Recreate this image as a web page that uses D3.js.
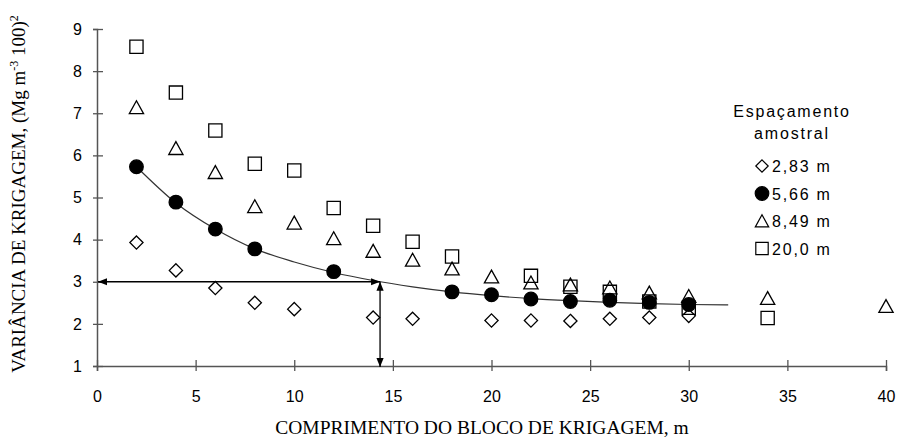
<!DOCTYPE html>
<html>
<head>
<meta charset="utf-8">
<script src="https://cdn.jsdelivr.net/npm/d3@7"></script>
<style>
  html, body { margin: 0; padding: 0; background: #fff; }
  svg { display: block; }
</style>
</head>
<body>
<svg id="chart" width="902" height="444"></svg>
<script>
// Block length (m) and kriging variance for each sampling spacing
const x283 = [2, 4, 6, 8, 10, 14, 16, 20, 22, 24, 26, 28, 30];
const y283 = [3.93, 3.27, 2.85, 2.50, 2.35, 2.15, 2.12, 2.08, 2.08, 2.07, 2.12, 2.15, 2.19];

const x566 = [2, 4, 6, 8, 12, 18, 20, 22, 24, 26, 28, 30];
const y566 = [5.73, 4.89, 4.25, 3.78, 3.24, 2.76, 2.69, 2.59, 2.53, 2.56, 2.51, 2.46];

const x849 = [2, 4, 6, 8, 10, 12, 14, 16, 18, 20, 22, 24, 26, 28, 30, 34, 40];
const y849 = [7.14, 6.17, 5.60, 4.79, 4.40, 4.03, 3.73, 3.52, 3.31, 3.12, 2.98, 2.93, 2.86, 2.74, 2.66, 2.61, 2.42];

const x200 = [2, 4, 6, 8, 10, 12, 14, 16, 18, 22, 24, 26, 28, 30, 34];
const y200 = [8.58, 7.49, 6.59, 5.80, 5.64, 4.75, 4.33, 3.95, 3.60, 3.14, 2.88, 2.76, 2.53, 2.38, 2.14];

// Fitted curve for the 5,66 m spacing
const xFit = [2, 4, 6, 8, 10, 12, 14, 16, 18, 20, 22, 24, 26, 28, 30, 32];
const yFit = [5.73, 4.87, 4.25, 3.78, 3.47, 3.22, 3.03, 2.88, 2.76, 2.67, 2.60, 2.55, 2.51, 2.48, 2.46, 2.45];

// Reading of the block length that gives a variance of 3
const readX = 14.35;
const readY = 3;

const xTicks = [0, 5, 10, 15, 20, 25, 30, 35, 40];
const yTicks = [1, 2, 3, 4, 5, 6, 7, 8, 9];

const legendLabels = ["2,83 m", "5,66 m", "8,49 m", "20,0 m"];
const legendShapes = ["diamond", "circle", "triangle", "square"];

const svg = d3.select("#chart");
const plotLeft = 97, plotRight = 886, plotTop = 29, plotBottom = 366;

const x = d3.scaleLinear().domain([0, 40]).range([plotLeft, plotRight]);
const y = d3.scaleLinear().domain([1, 9]).range([plotBottom, plotTop]);

const axisColor = "#555";

// Axes with ticks crossing the line
const xAxis = svg.append("g")
  .attr("transform", `translate(0,${plotBottom})`)
  .call(d3.axisBottom(x).tickValues(xTicks).tickSize(5).tickPadding(20).tickFormat(d3.format("d")));
xAxis.selectAll(".tick line").attr("y1", -6);

const yAxis = svg.append("g")
  .attr("transform", `translate(${plotLeft},0)`)
  .call(d3.axisLeft(y).tickValues(yTicks).tickSize(4).tickPadding(11).tickFormat(d3.format("d")));
yAxis.selectAll(".tick line").attr("x1", 6).attr("x2", -4);

[xAxis, yAxis].forEach(g => {
  g.select(".domain").attr("stroke", axisColor).attr("stroke-width", 1.5);
  g.selectAll(".tick line").attr("stroke", axisColor).attr("stroke-width", 1.3);
  g.selectAll(".tick text")
    .attr("fill", "#000")
    .style("font-family", "'Liberation Sans', Arial, sans-serif")
    .style("font-size", "16px");
});

// Axis titles
svg.append("text")
  .attr("x", 482).attr("y", 434)
  .attr("text-anchor", "middle")
  .style("font-family", "'Liberation Serif', 'Times New Roman', serif")
  .style("font-size", "19.5px")
  .text("COMPRIMENTO DO BLOCO DE KRIGAGEM, m");

const yTitle = svg.append("text")
  .attr("transform", "translate(25,194) rotate(-90)")
  .attr("text-anchor", "middle")
  .style("font-family", "'Liberation Serif', 'Times New Roman', serif")
  .style("font-size", "19px");
yTitle.append("tspan").text("VARIÂNCIA DE KRIGAGEM, (Mg m");
yTitle.append("tspan").attr("dy", -7).style("font-size", "12px").text("-3");
yTitle.append("tspan").attr("dy", 7).text(" 100)");
yTitle.append("tspan").attr("dy", -7).style("font-size", "12px").text("2");

// Fitted curve
const line = d3.line()
  .x((d, i) => x(xFit[i]))
  .y((d, i) => y(yFit[i]))
  .curve(d3.curveMonotoneX);
svg.append("path")
  .datum(yFit)
  .attr("d", line)
  .attr("fill", "none")
  .attr("stroke", "#333")
  .attr("stroke-width", 1.2);

// Double-headed arrows marking the reading at variance 3
const defs = svg.append("defs");
defs.append("marker")
  .attr("id", "head")
  .attr("viewBox", "0 0 10 10")
  .attr("refX", 10).attr("refY", 5)
  .attr("markerWidth", 9).attr("markerHeight", 9)
  .attr("markerUnits", "userSpaceOnUse")
  .attr("orient", "auto-start-reverse")
  .append("path")
  .attr("d", "M0,1 L10,5 L0,9 Z")
  .attr("fill", "#000");

svg.append("line")
  .attr("x1", x(readX)).attr("y1", y(readY))
  .attr("x2", x(0) + 1).attr("y2", y(readY))
  .attr("stroke", "#000").attr("stroke-width", 1.3)
  .attr("marker-start", "url(#head)")
  .attr("marker-end", "url(#head)");

svg.append("line")
  .attr("x1", x(readX)).attr("y1", y(readY))
  .attr("x2", x(readX)).attr("y2", y(1) + 1)
  .attr("stroke", "#000").attr("stroke-width", 1.3)
  .attr("marker-start", "url(#head)")
  .attr("marker-end", "url(#head)");

// Marker symbols
const shapePath = {
  diamond: s => `M0,${-s} L${s},0 L0,${s} L${-s},0 Z`,
  square: s => `M${-s},${-s} H${s} V${s} H${-s} Z`,
  triangle: s => `M0,${-s} L${s * 1.08},${s * 0.95} L${-s * 1.08},${s * 0.95} Z`,
  circle: s => `M${s},0 A${s},${s} 0 1 1 ${-s},0 A${s},${s} 0 1 1 ${s},0 Z`
};
const shapeSize = { diamond: 6.6, square: 6.6, triangle: 6.6, circle: 6.8 };

function drawSeries(xs, ys, shape) {
  const filled = shape === "circle";
  svg.append("g").selectAll("path")
    .data(ys)
    .join("path")
    .attr("transform", (d, i) => `translate(${x(xs[i])},${y(d)})`)
    .attr("d", shapePath[shape](shapeSize[shape]))
    .attr("fill", filled ? "#000" : "none")
    .attr("stroke", "#000")
    .attr("stroke-width", 1.3);
}

drawSeries(x200, y200, "square");
drawSeries(x849, y849, "triangle");
drawSeries(x283, y283, "diamond");
drawSeries(x566, y566, "circle");

// Legend
const legend = svg.append("g")
  .style("font-family", "'Liberation Sans', Arial, sans-serif")
  .style("font-size", "16px")
  .style("letter-spacing", "1.8px");
legend.append("text").attr("x", 792).attr("y", 117).attr("text-anchor", "middle").text("Espaçamento");
legend.append("text").attr("x", 792).attr("y", 139).attr("text-anchor", "middle").text("amostral");

legendLabels.forEach((lab, i) => {
  const cy = 166 + i * 27.5;
  const shape = legendShapes[i];
  legend.append("path")
    .attr("transform", `translate(762,${cy})`)
    .attr("d", shapePath[shape](shape === "circle" ? 6.8 : 6.2))
    .attr("fill", shape === "circle" ? "#000" : "none")
    .attr("stroke", "#000")
    .attr("stroke-width", 1.2);
  legend.append("text").attr("x", 772).attr("y", cy + 6).text(lab);
});
</script>
</body>
</html>
